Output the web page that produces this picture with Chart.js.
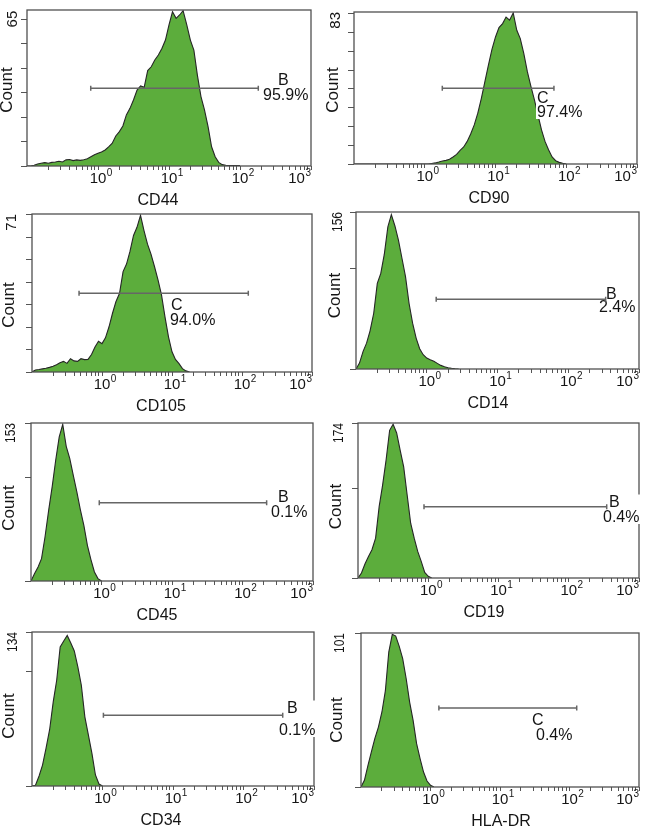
<!DOCTYPE html>
<html><head><meta charset="utf-8">
<script src="https://cdn.jsdelivr.net/npm/chart.js@4.4.1/dist/chart.umd.min.js"></script>
<style>
html,body{margin:0;padding:0;background:#fff;}
body{width:648px;height:833px;position:relative;overflow:hidden;}
canvas{position:absolute;}
</style></head><body>
<script>
// ---------- DATA ----------
// log-spaced channel values (fluorescence intensity)
const channelValues = [
  0.1, 0.112, 0.126, 0.141, 0.158, 0.178, 0.2, 0.224, 0.251, 0.282,
  0.316, 0.355, 0.398, 0.447, 0.501, 0.562, 0.631, 0.708, 0.794, 0.891,
  1, 1.12, 1.26, 1.41, 1.58, 1.78, 2, 2.24, 2.51, 2.82,
  3.16, 3.55, 3.98, 4.47, 5.01, 5.62, 6.31, 7.08, 7.94, 8.91,
  10, 11.2, 12.6, 14.1, 15.8, 17.8, 20, 22.4, 25.1, 28.2,
  31.6, 35.5, 39.8, 44.7, 50.1, 56.2, 63.1, 70.8, 79.4, 89.1,
  100
];
const cd44Counts = [
  0, 0, 0.3, 0.9, 1.2, 1.5, 1.2, 1.6, 1.8, 2.1,
  1.8, 2.7, 2.9, 2.4, 2.7, 2.5, 2.8, 3.2, 4.1, 5.0,
  5.6, 6.2, 7.1, 8.5, 10.0, 13.3, 15.2, 17.7, 22.6, 25.5,
  29.2, 33.6, 35.4, 34.8, 42.2, 43.9, 46.9, 49.1, 52.0, 55.7,
  62.4, 68.2, 65.3, 66.8, 68.7, 62.4, 55.7, 51.3, 40.2, 30.7,
  24.8, 17.4, 8.5, 4.1, 1.6, 0.6, 0.3, 0.2, 0.2, 0.2,
  0.2
];
const cd90Counts = [
  0, 0, 0, 0, 0, 0, 0, 0, 0, 0,
  0, 0, 0, 0, 0, 0, 0, 0, 0, 0,
  0, 0, 0.3, 0.6, 1.1, 1.7, 2.0, 2.6, 3.9, 5.3,
  7.5, 9.4, 12.5, 16.7, 21.6, 28.1, 36.3, 45.5, 54.7, 63.3,
  70.2, 75.4, 77.6, 81.2, 79.5, 83.5, 73.9, 69.3, 61.1, 51.0,
  43.1, 35.4, 27.1, 18.9, 12.5, 7.9, 3.9, 1.8, 0.9, 0.4,
  0
];
const cd105Counts = [
  0, 0.9, 1.1, 1.4, 1.7, 2.1, 2.6, 3.3, 4.2, 4.8,
  3.9, 6.0, 5.0, 4.8, 6.0, 5.6, 5.7, 7.9, 11.3, 13.9,
  12.8, 15.4, 20.4, 26.4, 31.7, 35.5, 45.3, 48.7, 54.4, 61.6,
  65.3, 70.7, 63.8, 57.7, 53.2, 47.6, 41.6, 34.8, 24.9, 15.9,
  9.1, 5.7, 3.8, 1.5, 0.5, 0
];
const cd14Counts = [
  0, 5.9, 17.5, 25.7, 37.9, 55.4, 85.1, 95.0, 113.8, 141.2,
  153.4, 142.1, 128.0, 109.8, 91.7, 65.3, 45.5, 30.7, 20.1, 14.2,
  10.9, 9.2, 7.6, 5.6, 3.6, 2.3, 1.3, 0.7, 0.3, 0
];
const cd45Counts = [
  0, 7.1, 13.6, 21.6, 42.6, 68.4, 91.7, 116.9, 139.4, 151.7,
  130.4, 118.5, 102.3, 86.2, 69.1, 53.9, 34.5, 20.7, 8.7, 2.3,
  0
];
const cd19Counts = [
  0, 5.6, 16.0, 24.2, 31.7, 44.7, 80.1, 104.3, 132.3, 165.8,
  172.5, 162.8, 143.5, 124.8, 93.2, 61.5, 44.7, 29.8, 18.6, 6.3,
  1.9, 0
];
const cd34Counts = [
  0, 0.6, 8.7, 18.2, 32.7, 49.2, 73.2, 92.0, 121.0, 126.2,
  131.0, 124.4, 117.5, 103.6, 87.7, 60.2, 44.3, 28.4, 9.6, 1.7,
  0
];
const hlaDrCounts = [
  0, 4.4, 14.2, 23.0, 31.7, 39.3, 49.2, 63.0, 88.5, 100.1,
  99.0, 92.2, 84.2, 71.0, 55.7, 43.7, 28.4, 18.6, 9.8, 3.9,
  1.1, 0
];
const markerNames = ['CD44', 'CD90', 'CD105', 'CD14', 'CD45', 'CD19', 'CD34', 'HLA-DR'];
const gateLetters = ['B', 'C', 'C', 'B', 'B', 'B', 'B', 'C'];
const gatePercents = ['95.9%', '97.4%', '94.0%', '2.4%', '0.1%', '0.4%', '0.1%', '0.4%'];
const gateLow = [0.79, 1.77, 0.47, 1.36, 0.93, 0.87, 1.03, 1.32];
const gateHigh = [181, 67, 123, 338, 220, 347, 360, 127];
const countAxisMax = [69, 84, 71.3, 156, 153, 174, 134, 101];
const countMaxLabels = [65, 83, 71, 156, 153, 174, 134, 101];
const cd44CountTicks = [0, 10.83, 21.67, 32.5, 43.33, 54.17, 65];
const cd90CountTicks = [0, 10.4, 20.8, 31.1, 41.5, 51.9, 62.3, 72.6, 83];
const cd105CountTicks = [0, 10.1, 20.3, 30.4, 40.6, 50.7, 60.9, 71];
const cd14CountTicks = [0, 100, 156];
const cd45CountTicks = [0, 100, 153];
const cd19CountTicks = [0, 100, 174];
const cd34CountTicks = [0, 100, 134];
const hlaDrCountTicks = [0, 101];
const decadeTickValues = [1, 10, 100, 1000];
const decadeTickExponents = ['0', '1', '2', '3'];
const xTickMarks = [0.2,0.3,0.4,0.5,0.6,0.7,0.8,0.9,1,2,3,4,5,6,7,8,9,10,20,30,40,50,60,70,80,90,100,200,300,400,500,600,700,800,900,1000];

const countSeries = [cd44Counts, cd90Counts, cd105Counts, cd14Counts, cd45Counts, cd19Counts, cd34Counts, hlaDrCounts];
const countTicks = [cd44CountTicks, cd90CountTicks, cd105CountTicks, cd14CountTicks, cd45CountTicks, cd19CountTicks, cd34CountTicks, hlaDrCountTicks];

// ---------- LAYOUT ----------
const FONT = '"Liberation Sans", Arial, Helvetica, sans-serif';
const panels = [
  {box:[27,311,10,166],  countDx:-19.5, countDy:2,  maxDx:-14, maxAnchor:'value', titleDx:131, letter:[251,75], pct:[236,90],  gateY:0.502},
  {box:[354,637,12,164], countDx:-21,   countDy:2,  maxDx:-18, maxAnchor:'top',   titleDx:135, letter:[183,91], pct:[183,105], gateY:0.502},
  {box:[32,312,214,372], countDx:-23,   countDy:12, maxDx:-20, maxAnchor:'top',   titleDx:129, letter:[139,96], pct:[138,111], gateY:0.502},
  {box:[356,639,212,369],countDx:-21,   countDy:5,  maxDx:-18, maxAnchor:'top',   titleDx:132, letter:[250,87], pct:[243,100], gateY:0.556},
  {box:[31,313,423,581], countDx:-22,   countDy:6,  maxDx:-20, maxAnchor:'top',   titleDx:126, letter:[247,79], pct:[240,94],  gateY:0.504},
  {box:[358,639,423,578],countDx:-21.5, countDy:6,  maxDx:-19, maxAnchor:'top',   titleDx:126, letter:[251,84], pct:[245,99],  gateY:0.54},
  {box:[32,314,632,786], countDx:-23,   countDy:7,  maxDx:-19, maxAnchor:'top',   titleDx:129, letter:[255,81], pct:[247,103], gateY:0.54},
  {box:[361,639,633,787],countDx:-24,   countDy:10, maxDx:-21, maxAnchor:'top',   titleDx:140, letter:[171,92], pct:[175,107], gateY:0.487}
];
const PADL = 32, PADT = 8, PADR = 8, XH = 50;
const TEXT = '#151515';

const panelDecor = {
  id: 'panelDecor',
  afterDraw(chart, args, opts) {
    const i = opts.index, p = panels[i];
    const ctx = chart.ctx, a = chart.chartArea;
    const xs = chart.scales.x, ys = chart.scales.y;
    ctx.save();
    // frame
    ctx.strokeStyle = '#505050'; ctx.lineWidth = 1.3;
    ctx.strokeRect(a.left, a.top, a.right - a.left, a.bottom - a.top);

    // gate label background + text
    ctx.font = '16px ' + FONT;
    const lx = a.left + p.letter[0], ly = a.top + p.letter[1];
    const px = a.left + p.pct[0], py = a.top + p.pct[1];
    const lw = ctx.measureText(gateLetters[i]).width, pw = ctx.measureText(gatePercents[i]).width;
    const bx0 = Math.min(lx, px) - 1, bx1 = Math.max(lx + lw, px + pw) + 1;
    const by0 = ly - 12.5, by1 = py + 2;
    ctx.fillStyle = '#ffffff';
    ctx.fillRect(bx0, by0, bx1 - bx0, by1 - by0);
    ctx.fillStyle = TEXT; ctx.textAlign = 'left'; ctx.textBaseline = 'alphabetic';
    ctx.fillText(gateLetters[i], lx, ly);
    ctx.fillText(gatePercents[i], px, py);

    // gate bar
    const gy = a.top + p.gateY * (a.bottom - a.top);
    const g1 = xs.getPixelForValue(gateLow[i]), g2 = xs.getPixelForValue(gateHigh[i]);
    ctx.strokeStyle = '#666666'; ctx.lineWidth = 1.5;
    ctx.beginPath();
    ctx.moveTo(g1, gy); ctx.lineTo(g2, gy);
    ctx.moveTo(g1, gy - 2.5); ctx.lineTo(g1, gy + 2.5);
    ctx.moveTo(g2, gy - 2.5); ctx.lineTo(g2, gy + 2.5);
    ctx.stroke();

    // decade tick labels 10^n
    ctx.fillStyle = TEXT; ctx.textBaseline = 'alphabetic';
    decadeTickValues.forEach((v, k) => {
      const x = xs.getPixelForValue(v);
      ctx.font = '15px ' + FONT;
      const w10 = ctx.measureText('10').width;
      ctx.font = '10px ' + FONT;
      const ws = ctx.measureText(decadeTickExponents[k]).width;
      let start = x - w10 / 2;
      if (k === decadeTickValues.length - 1) start = a.right - (w10 + 0.5 + ws);
      ctx.font = '15px ' + FONT; ctx.textAlign = 'left';
      ctx.fillText('10', start, a.bottom + 17);
      ctx.font = '10px ' + FONT;
      ctx.fillText(decadeTickExponents[k], start + w10 + 0.5, a.bottom + 9.5);
    });

    // x axis title
    ctx.font = '16px ' + FONT; ctx.textAlign = 'center';
    ctx.fillText(markerNames[i], a.left + p.titleDx, a.bottom + 39);

    // y axis title "Count" and max label (rotated)
    ctx.save();
    ctx.translate(a.left + p.countDx, (a.top + a.bottom) / 2 + p.countDy);
    ctx.rotate(-Math.PI / 2);
    ctx.font = '17px ' + FONT; ctx.textAlign = 'center'; ctx.textBaseline = 'middle';
    ctx.fillText('Count', 0, 0);
    ctx.restore();

    ctx.save();
    let my, align;
    if (p.maxAnchor === 'value') { my = ys.getPixelForValue(countMaxLabels[i]); align = 'center'; }
    else { my = a.top; align = 'right'; }
    ctx.translate(a.left + p.maxDx, my);
    ctx.rotate(-Math.PI / 2);
    ctx.font = '15px ' + FONT; ctx.textAlign = align; ctx.textBaseline = 'middle';
    ctx.fillText(String(countMaxLabels[i]), 0, 0, 20);
    ctx.restore();

    ctx.restore();
  }
};

panels.forEach((p, i) => {
  const [L, R, T, B] = p.box;
  const w = R - L + PADL + PADR, h = B - T + PADT + XH;
  const cv = document.createElement('canvas');
  cv.width = w; cv.height = h;
  cv.style.left = (L - PADL) + 'px'; cv.style.top = (T - PADT) + 'px';
  cv.style.width = w + 'px'; cv.style.height = h + 'px';
  document.body.appendChild(cv);
  const points = countSeries[i].map((c, k) => ({x: channelValues[k], y: c}));
  new Chart(cv, {
    type: 'line',
    data: { datasets: [{
      data: points,
      fill: 'origin',
      backgroundColor: '#5cad3c',
      borderColor: '#262626',
      borderWidth: 1.1,
      pointRadius: 0,
      tension: 0
    }]},
    options: {
      responsive: false, animation: false, devicePixelRatio: 1,
      layout: { padding: { left: 0, top: PADT, right: PADR, bottom: 0 } },
      plugins: { legend: { display: false }, tooltip: { enabled: false }, panelDecor: { index: i } },
      scales: {
        x: {
          type: 'logarithmic', position: 'bottom', min: 0.1, max: 1000,
          ticks: { display: false },
          grid: { drawOnChartArea: false, drawTicks: true, tickLength: 4, color: '#555555', lineWidth: 1 },
          border: { display: false },
          afterBuildTicks: s => { s.ticks = xTickMarks.map(v => ({ value: v })); },
          afterFit: s => { s.height = XH; }
        },
        y: {
          type: 'linear', position: 'left', min: 0, max: countAxisMax[i],
          ticks: { display: false },
          grid: { drawOnChartArea: false, drawTicks: true, tickLength: 6, color: '#555555', lineWidth: 1 },
          border: { display: false },
          afterBuildTicks: s => { s.ticks = countTicks[i].map(v => ({ value: v })); },
          afterFit: s => { s.width = PADL; }
        }
      }
    },
    plugins: [panelDecor]
  });
});
</script>
</body></html>
